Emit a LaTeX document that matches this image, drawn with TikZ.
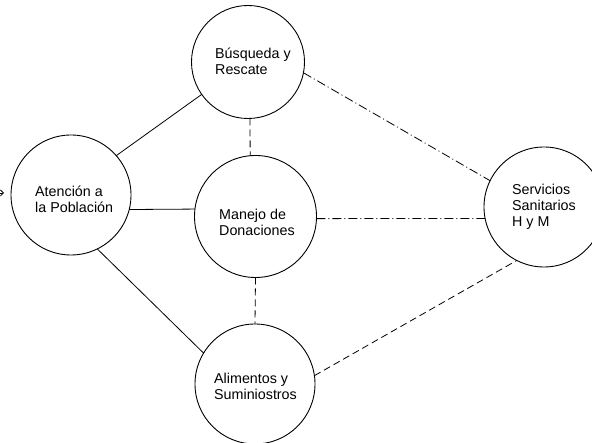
\documentclass[tikz,border=0pt]{standalone}
\usepackage{fontspec}
\setmainfont{Liberation Sans}
\usetikzlibrary{arrows.meta}
\tikzset{
  circ/.style={draw, circle, line width=0.9pt, inner sep=0pt, outer sep=0pt},
  lbl/.style={anchor=west, align=left, inner sep=0pt, font=\fontsize{14.3}{15.8}\selectfont},
  solidlink/.style={line width=0.8pt},
  dashlink/.style={line width=0.8pt, dash pattern=on 7pt off 4pt},
  dotdashlink/.style={line width=0.8pt, dash pattern=on 9pt off 3pt on 1pt off 3pt},
}
\begin{document}
\begin{tikzpicture}[x=1pt,y=-1pt]
\useasboundingbox (0,0) rectangle (592,443);
% circles
\node[circ, minimum size=113pt] (bus) at (248,62) {};
\node[circ, minimum size=120pt] (ate) at (71,195) {};
\node[circ, minimum size=122pt] (man) at (255.5,216.5) {};
\node[circ, minimum size=120pt] (ser) at (544,207) {};
\node[circ, minimum size=120pt] (ali) at (255,384) {};
% texts
\node[lbl] (tbus) at (215,61) {Búsqueda y\\Rescate};
\node[lbl] (tate) at (35,199) {Atención a\\la Población};
\node[lbl] (tman) at (219,222) {Manejo de\\Donaciones};
\node[lbl] (tser) at (512,207) {Servicios\\Sanitarios\\H y M};
\node[lbl] (tali) at (214,386) {Alimentos y\\Suminiostros};
% incoming arrow
\coordinate (inA) at (-8,193);
\coordinate (inB) at (4,193);
\draw[line width=0.8pt, -{Straight Barb[length=3pt,width=6pt]}] (inA) -- (inB);
% connectors
\draw[solidlink] (bus.215) -- (ate.41);
\draw[solidlink] (ate.-14.5) -- (man.173.9);
\draw[solidlink] (ate.-64.7) -- (ali.149.7);
\draw[dashlink] (bus.-88) -- (man.95.1);
\draw[dashlink] (man.-90) -- (ali.90);
\draw[dashlink] (ali.8.3) -- (ser.243.9);
\draw[dotdashlink] (bus.-11.5) -- (ser.154.3);
\draw[dotdashlink] (man.-2.3) -- (ser.191.5);
\end{tikzpicture}
\end{document}
